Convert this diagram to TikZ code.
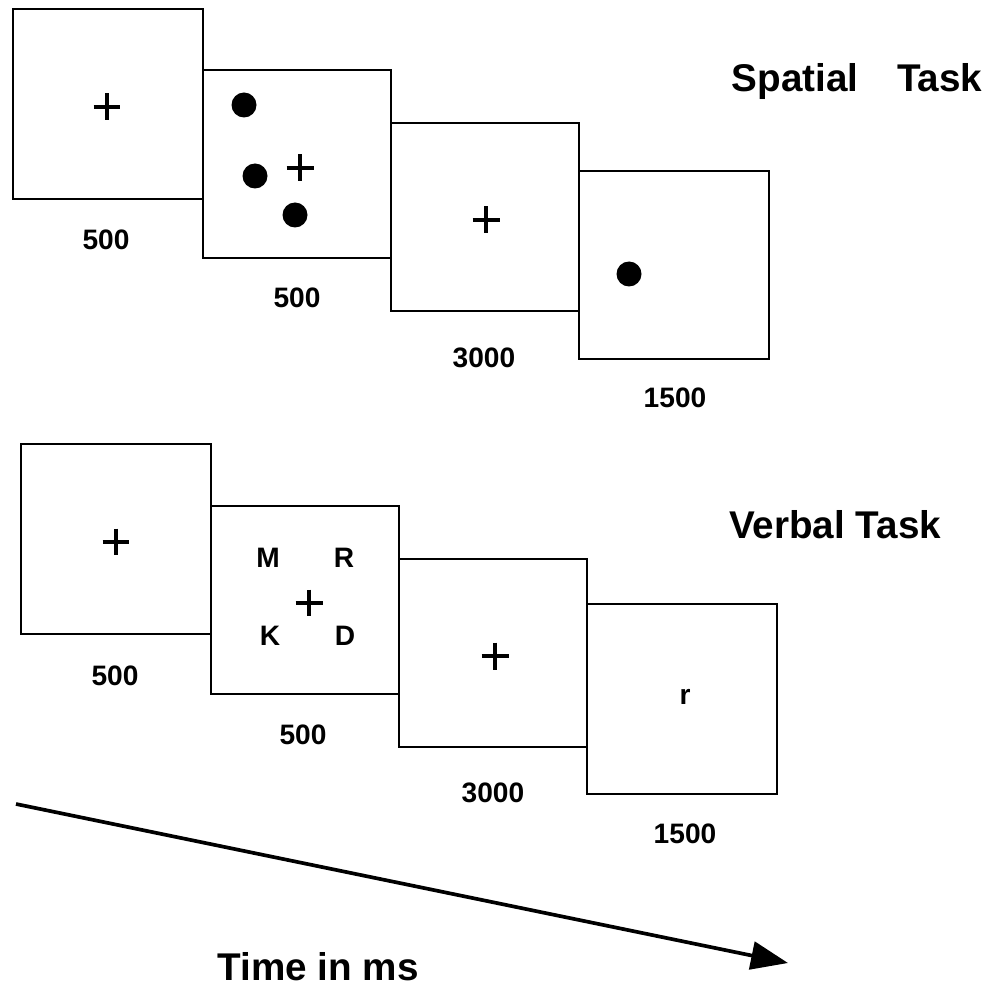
\documentclass[tikz,border=0pt]{standalone}
\usepackage{fontspec}
\setmainfont{Liberation Sans}
\usetikzlibrary{arrows.meta}

\tikzset{
  panel/.style={draw, line width=1.1pt, anchor=north west, outer sep=0pt, inner sep=0pt,
    minimum width=3.8cm, minimum height=3.8cm},
  narrow/.style={minimum width=3.76cm, minimum height=3.76cm},
  fix/.style={inner sep=0pt, outer sep=0pt, minimum size=0.54cm},
  crossline/.style={line width=2.5pt},
  dot/.style={circle, fill=black, inner sep=0pt, minimum size=0.5cm},
  dur/.style={font=\fontsize{16}{18}\selectfont\bfseries, inner sep=0pt},
  letter/.style={font=\fontsize{16}{18}\selectfont\bfseries, inner sep=0pt},
  task/.style={font=\fontsize{22}{26}\selectfont\bfseries, inner sep=0pt},
  timearrow/.style={line width=2.1pt, -{Triangle[length=0.74cm,width=0.56cm]}}
}
% fixation cross: name, position
\newcommand{\fixat}[2]{%
  \node[fix] (#1) at #2 {};
  \draw[crossline] (#1.north) -- (#1.south) (#1.west) -- (#1.east);}

\begin{document}
\begin{tikzpicture}[x=0.02cm, y=-0.02cm]
  \useasboundingbox (0,0) rectangle (990,989);

  % spatial task
  \node[panel] (s1) at (13,9) {};
  \node[panel,narrow] (s2) at (203,70) {};
  \node[panel,narrow] (s3) at (391,123) {};
  \node[panel,minimum height=3.76cm] (s4) at (579,171) {};
  \fixat{s1x}{(107,107)}
  \fixat{s2x}{(300,168)}
  \fixat{s3x}{(486,220)}
  \node[dot] (s2a) at (244,105) {};
  \node[dot] (s2b) at (255,176) {};
  \node[dot] (s2c) at (295,215) {};
  \node[dot] (s4a) at (629,274) {};
  \node[dur] (s1t) at (106,240) {500};
  \node[dur] (s2t) at (297,298) {500};
  \node[dur] (s3t) at (484,358) {3000};
  \node[dur] (s4t) at (675,398) {1500};
  \node[task] (spatial) at (857,82) {Spatial\quad Task};

  % verbal task
  \node[panel] (v1) at (21,444) {};
  \node[panel,narrow] (v2) at (211,506) {};
  \node[panel,narrow] (v3) at (399,559) {};
  \node[panel] (v4) at (587,604) {};
  \fixat{v1x}{(116,542)}
  \fixat{v2x}{(309,603)}
  \fixat{v3x}{(495,656)}
  \node[letter] (vm) at (268,558) {M};
  \node[letter] (vr) at (344,558) {R};
  \node[letter] (vk) at (270,636) {K};
  \node[letter] (vd) at (345,636) {D};
  \node[letter] (vprobe) at (685,697) {r};
  \node[dur] (v1t) at (115,676) {500};
  \node[dur] (v2t) at (303,735) {500};
  \node[dur] (v3t) at (493,793) {3000};
  \node[dur] (v4t) at (685,834) {1500};
  \node[task] (verbal) at (835,525) {Verbal Task};

  % time axis
  \coordinate (tstart) at (16,804);
  \coordinate (tend) at (788,963);
  \draw[timearrow] (tstart) -- (tend);
  \node[task] (timelbl) at (318,967) {Time in ms};
\end{tikzpicture}
\end{document}
